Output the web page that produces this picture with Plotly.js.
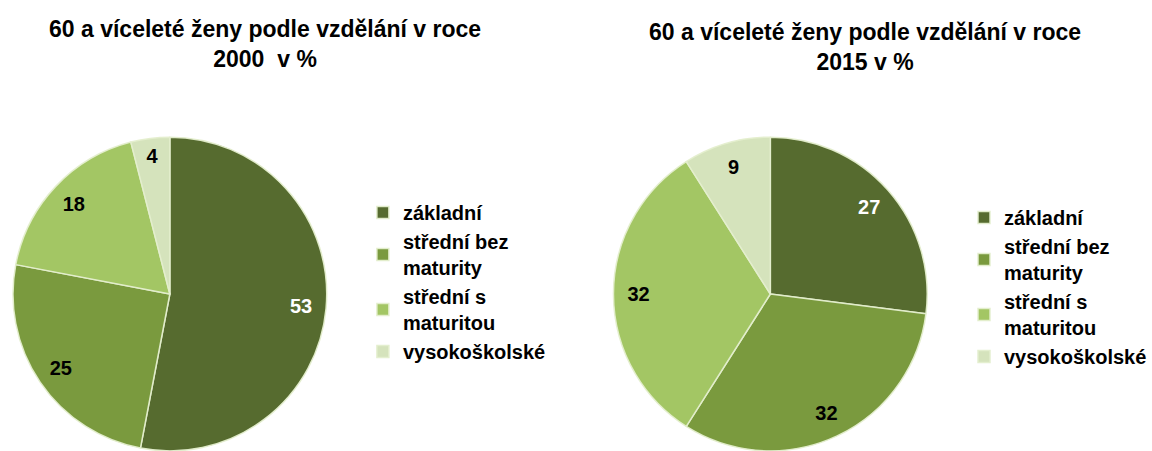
<!DOCTYPE html>
<html>
<head>
<meta charset="utf-8">
<script src="https://cdn.plot.ly/plotly-3.0.1.min.js"></script>
<style>
html,body{margin:0;padding:0;background:#fff;overflow:hidden;}
#chart{width:1152px;height:451px;}
</style>
</head>
<body>
<div id="chart"></div>
<script>
const categories = ["základní", "střední bez<br>maturity", "střední s<br>maturitou", "vysokoškolské"];
const values2000 = [53, 25, 18, 4];
const values2015 = [27, 32, 32, 9];
const title2000 = "60 a víceleté ženy podle vzdělání v roce<br>2000  v %";
const title2015 = "60 a víceleté ženy podle vzdělání v roce<br>2015 v %";

const sliceColors = ["#566B2F", "#7A9A3E", "#A3C664", "#D5E3BC"];
const labelColors = ["#FFFFFF", "#000000", "#000000", "#000000"];
const FONT = "Arial, 'Liberation Sans', sans-serif";
const pieDomainY = [0, 0.6962];

// filled slices + legend
function pieTrace(vals, domainX, legendId, group) {
  return {
    type: "pie",
    labels: categories,
    values: vals,
    sort: false,
    direction: "clockwise",
    rotation: 0,
    domain: {x: domainX, y: pieDomainY},
    marker: {colors: sliceColors, line: {color: "rgba(228,238,205,0.95)", width: 1.5}},
    textinfo: "none",
    hoverinfo: "label+value",
    legend: legendId,
    legendgroup: group,
    showlegend: true
  };
}
// value labels layer (transparent ring so labels sit near the rim)
function labelTrace(vals, domainX, legendId, group) {
  return {
    type: "pie",
    labels: categories,
    values: vals,
    sort: false,
    direction: "clockwise",
    rotation: 0,
    hole: 0.68,
    domain: {x: domainX, y: pieDomainY},
    marker: {colors: ["rgba(0,0,0,0)", "rgba(0,0,0,0)", "rgba(0,0,0,0)", "rgba(0,0,0,0)"], line: {width: 0}},
    textinfo: "value",
    texttemplate: "%{value}",
    textposition: "inside",
    insidetextorientation: "horizontal",
    insidetextfont: {family: FONT, size: 20, weight: "bold", color: labelColors},
    hoverinfo: "skip",
    legend: legendId,
    legendgroup: group + "t",
    showlegend: false
  };
}

const dom1 = [0.01128, 0.28385];
const dom2 = [0.53299, 0.80556];
const data = [
  pieTrace(values2000, dom1, "legend", "g2000"),
  pieTrace(values2015, dom2, "legend2", "g2015"),
  labelTrace(values2000, dom1, "legend", "g2000"),
  labelTrace(values2015, dom2, "legend2", "g2015")
];

const legendFont = {family: FONT, size: 20, weight: "bold", color: "#000"};
const layout = {
  width: 1152,
  height: 451,
  margin: {l: 0, r: 0, t: 0, b: 0},
  paper_bgcolor: "#fff",
  font: {family: FONT},
  legend: {x: 0.315, xanchor: "left", y: 0.3747, yanchor: "middle", font: legendFont, itemwidth: 30, traceorder: "normal"},
  legend2: {x: 0.8377, xanchor: "left", y: 0.3636, yanchor: "middle", font: legendFont, itemwidth: 30, traceorder: "normal"},
  annotations: [
    {text: title2000, xref: "paper", yref: "paper", x: 265/1152, y: 1 - 44/451, xanchor: "center", yanchor: "middle", showarrow: false, font: {family: FONT, size: 23, weight: "bold", color: "#000"}},
    {text: title2015, xref: "paper", yref: "paper", x: 866/1152, y: 1 - 47/451, xanchor: "center", yanchor: "middle", showarrow: false, font: {family: FONT, size: 23, weight: "bold", color: "#000"}}
  ]
};

Plotly.newPlot("chart", data, layout, {displayModeBar: false, staticPlot: true});
</script>
</body>
</html>
